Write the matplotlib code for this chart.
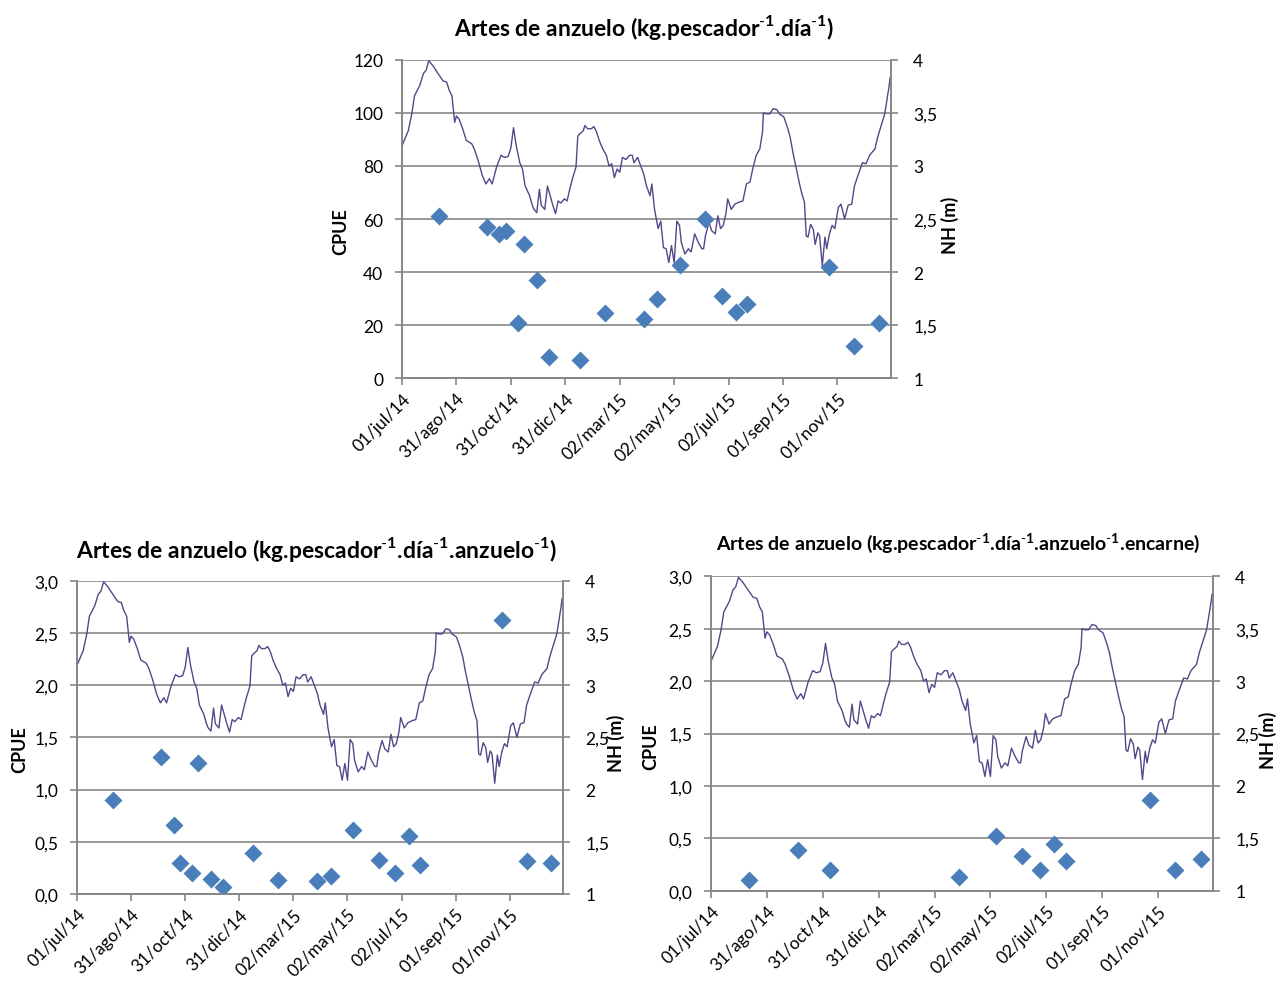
import numpy as np
import matplotlib
matplotlib.use("Agg")
import matplotlib.pyplot as plt

plt.rcParams['font.family'] = ['Lato', 'DejaVu Sans']
plt.rcParams['mathtext.fontset'] = 'custom'
plt.rcParams['mathtext.rm'] = 'Lato'
plt.rcParams['mathtext.bf'] = 'Lato:bold'

start = np.datetime64('2014-07-01')

# Nivel hidrométrico (m), días desde 01/jul/14
nh_day = [0, 7, 11, 14, 20, 24, 27, 30, 35, 38, 42, 46, 50, 53, 56, 59, 61, 64, 68, 72,
          78, 81, 85, 90, 94, 98, 101, 106, 111, 115, 119, 122, 125, 128, 132, 135, 138, 143,
          146, 148, 151, 154, 156, 160, 163, 166, 169, 172, 175, 178, 182, 185, 188, 191, 195,
          197, 199, 203, 205, 208, 212, 215, 218, 221, 225, 229, 232, 235, 238, 241, 244, 247,
          251, 255, 258, 260, 264, 268, 271, 274, 278, 280, 283, 287, 290, 293, 296, 299, 302,
          305, 308, 311, 313, 317, 321, 324, 328, 332, 336, 338, 340, 344, 347, 351, 354, 357,
          360, 363, 365, 369, 373, 378, 382, 386, 390, 393, 397, 401, 404, 405, 408, 412, 416,
          420, 423, 428, 432, 435, 438, 442, 445, 448, 451, 453, 455, 458, 461, 463, 466, 468,
          471, 474, 476, 479, 482, 485, 489, 492, 496, 500, 504, 507, 511, 516, 520, 524, 530,
          533, 537, 541, 544, 546, 547]
nh_m = [3.19, 3.33, 3.49, 3.66, 3.76, 3.87, 3.90, 3.99, 3.94, 3.90, 3.85, 3.80, 3.79, 3.71,
        3.66, 3.41, 3.47, 3.44, 3.35, 3.24, 3.21, 3.16, 3.06, 2.91, 2.83, 2.88, 2.83, 2.99,
        3.10, 3.08, 3.09, 3.17, 3.36, 3.19, 3.03, 2.97, 2.81, 2.72, 2.63, 2.59, 2.56, 2.78,
        2.63, 2.59, 2.81, 2.72, 2.63, 2.55, 2.67, 2.65, 2.69, 2.67, 2.78, 2.88, 2.99, 3.28,
        3.30, 3.33, 3.38, 3.35, 3.35, 3.37, 3.32, 3.24, 3.16, 3.10, 3.00, 3.02, 2.89, 2.97,
        2.94, 3.08, 3.06, 3.10, 3.10, 3.03, 3.08, 2.99, 2.92, 2.81, 2.72, 2.83, 2.59, 2.41,
        2.48, 2.23, 2.22, 2.09, 2.25, 2.09, 2.48, 2.44, 2.28, 2.17, 2.22, 2.19, 2.36, 2.28,
        2.22, 2.22, 2.34, 2.47, 2.39, 2.36, 2.53, 2.41, 2.44, 2.55, 2.69, 2.59, 2.64, 2.66,
        2.67, 2.83, 2.85, 2.97, 3.10, 3.16, 3.32, 3.50, 3.49, 3.49, 3.54, 3.53, 3.49, 3.46,
        3.36, 3.27, 3.13, 2.97, 2.85, 2.74, 2.66, 2.34, 2.33, 2.45, 2.40, 2.26, 2.37, 2.34,
        2.06, 2.33, 2.22, 2.36, 2.44, 2.41, 2.61, 2.64, 2.50, 2.63, 2.64, 2.81, 2.91, 3.03,
        3.02, 3.10, 3.16, 3.27, 3.38, 3.49, 3.65, 3.76, 3.83]

# Muestreos de CPUE, días desde 01/jul/14
cpue_day = [41, 95, 109, 116, 130, 137, 151, 165, 199, 227, 271, 286, 311, 340, 359, 374,
            387, 479, 507, 535]
cpue_kg = [61, 57, 54.5, 55.5, 21, 50.5, 37, 8, 7, 24.5, 22.5, 30, 42.5, 60, 31, 25, 28,
           42, 12, 21]
cpue_anzuelo = [0.90, 1.31, 0.66, 0.30, 0.20, 1.25, 0.14, 0.07, 0.39, 0.13, 0.12, 0.17,
                0.61, 0.33, 0.20, 0.56, 0.28, 2.62, 0.32, 0.30]
encarne_day = [41, 95, 130, 271, 311, 340, 359, 374, 387, 479, 507, 535]
cpue_encarne = [0.10, 0.39, 0.20, 0.13, 0.52, 0.33, 0.20, 0.45, 0.28, 0.87, 0.20, 0.30]

tick_day = [0, 61, 122, 183, 244, 305, 366, 427, 488]
tick_labels = ['01/jul/14', '31/ago/14', '31/oct/14', '31/dic/14', '02/mar/15',
               '02/may/15', '02/jul/15', '01/sep/15', '01/nov/15']
nh_ticks = [1, 1.5, 2, 2.5, 3, 3.5, 4]
nh_labels = ['1', '1,5', '2', '2,5', '3', '3,5', '4']

GRAY = '#868686'
W, H = 1278, 987


def to_dates(days):
    return start + np.array(days).astype('timedelta64[D]')


def panel(rect, s_day, s_val, yticks, ylabels):
    l, t, r, b = rect
    ax2 = fig.add_axes([l / W, 1 - b / H, (r - l) / W, (b - t) / H])
    ax = ax2.twinx()
    ax.yaxis.tick_left()
    ax2.yaxis.tick_right()
    ax.set_zorder(ax2.get_zorder() + 1)
    ax.patch.set_visible(False)

    ax2.plot(to_dates(nh_day), nh_m, color='#55468A', lw=1.0, zorder=3)
    ax2.set_ylim(1, 4)
    ax2.set_yticks(nh_ticks)
    ax2.set_yticklabels(nh_labels)
    ax2.grid(axis='y', color=GRAY, lw=1.2, zorder=0)

    ax.plot(to_dates(s_day), s_val, 'D', color='#4A7EBB', ms=9.5, mec='none')
    ax.set_ylim(yticks[0], yticks[-1])
    ax.set_yticks(yticks)
    ax.set_yticklabels(ylabels)

    ax2.set_xlim(to_dates([0])[0], to_dates([548])[0])
    ax2.set_xticks(to_dates(tick_day))
    ax2.set_xticklabels(tick_labels, rotation=45, ha='right', rotation_mode='anchor')

    for a in (ax, ax2):
        a.spines['top'].set_visible(False)
        for s in ('left', 'right', 'bottom'):
            a.spines[s].set_color(GRAY)
            a.spines[s].set_linewidth(1.2)
        a.tick_params(colors=GRAY, labelcolor='black', labelsize=12.5, length=5, width=1.2)
    ax.tick_params(axis='y', pad=8.5)
    ax2.tick_params(axis='y', pad=11)
    return ax, ax2


fig = plt.figure(figsize=(W / 100, H / 100), dpi=100)

panel((402, 60.7, 891, 379.3), cpue_day, cpue_kg,
      [0, 20, 40, 60, 80, 100, 120], ['0', '20', '40', '60', '80', '100', '120'])
panel((77, 581.7, 563, 895), cpue_day, cpue_anzuelo,
      [0, 0.5, 1, 1.5, 2, 2.5, 3], ['0,0', '0,5', '1,0', '1,5', '2,0', '2,5', '3,0'])
panel((711, 577.3, 1213, 891.7), encarne_day, cpue_encarne,
      [0, 0.5, 1, 1.5, 2, 2.5, 3], ['0,0', '0,5', '1,0', '1,5', '2,0', '2,5', '3,0'])

m1 = r'$^{\text{-}\mathbf{1}}$'
fig.text(644 / W, 1 - 28 / H, 'Artes de anzuelo (kg.pescador' + m1 + '.día' + m1 + ')',
         ha='center', va='center', fontsize=16.5, fontweight='bold')
fig.text(316 / W, 1 - 550 / H,
         'Artes de anzuelo (kg.pescador' + m1 + '.día' + m1 + '.anzuelo' + m1 + ')',
         ha='center', va='center', fontsize=16.5, fontweight='bold')
fig.text(958 / W, 1 - 543 / H,
         'Artes de anzuelo (kg.pescador' + m1 + '.día' + m1 + '.anzuelo' + m1 + '.encarne)',
         ha='center', va='center', fontsize=14, fontweight='bold')

for x, y, s in [(341, 232, 'CPUE'), (950, 225, 'NH (m)'),
                (20, 750, 'CPUE'), (616, 743, 'NH (m)'),
                (651, 747, 'CPUE'), (1268, 740, 'NH (m)')]:
    fig.text(x / W, 1 - y / H, s, rotation=90, ha='center', va='center',
             fontsize=13, fontweight='bold')

fig.savefig('out.png', dpi=100)
